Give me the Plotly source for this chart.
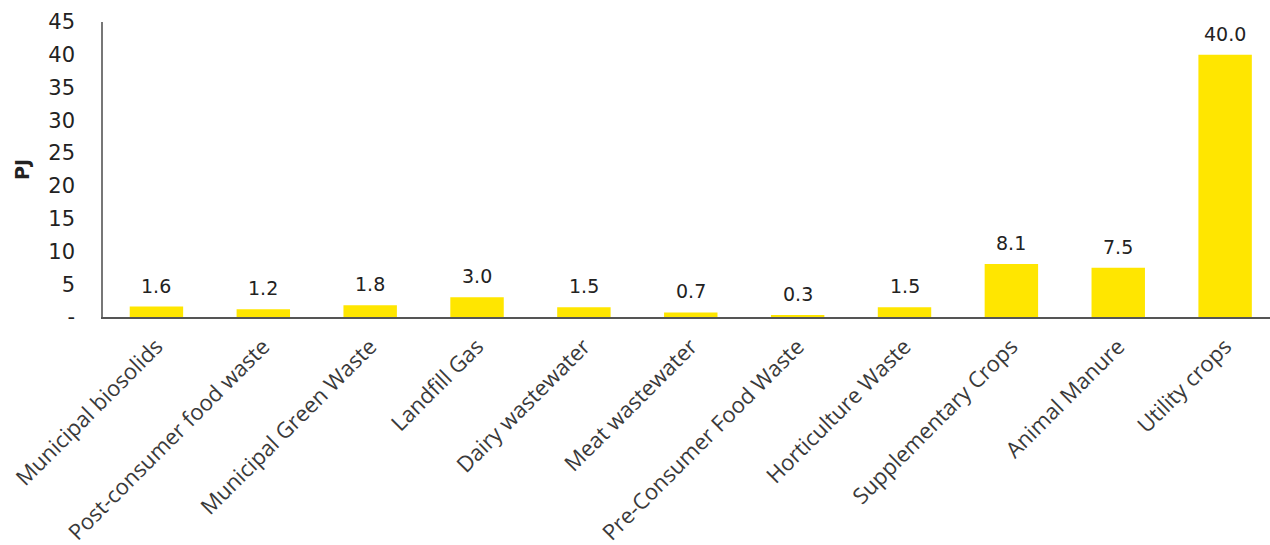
import plotly.graph_objects as go

categories = ["Municipal biosolids", "Post-consumer food waste", "Municipal Green Waste",
              "Landfill Gas", "Dairy wastewater", "Meat wastewater", "Pre-Consumer Food Waste",
              "Horticulture Waste", "Supplementary Crops", "Animal Manure", "Utility crops"]
values = [1.6, 1.2, 1.8, 3.0, 1.5, 0.7, 0.3, 1.5, 8.1, 7.5, 40.0]
ytick_vals = [0, 5, 10, 15, 20, 25, 30, 35, 40, 45]
ytick_text = ["-", "5", "10", "15", "20", "25", "30", "35", "40", "45"]

x_idx = list(range(len(categories)))

fig = go.Figure()
fig.add_trace(go.Bar(x=x_idx, y=values, marker_color="#FFE600", width=0.5,
                     marker_line_width=0, hoverinfo="skip"))

for i, v in zip(x_idx, values):
    fig.add_annotation(x=i, y=v, text=f"{v:.1f}", showarrow=False, yanchor="bottom",
                       yshift=8, font=dict(family="DejaVu Sans", size=19, color="#222222"))

fig.update_layout(
    width=1270, height=545,
    margin=dict(l=103, r=0, t=22, b=228),
    paper_bgcolor="white", plot_bgcolor="white",
    showlegend=False,
    xaxis=dict(
        tickmode="array", tickvals=x_idx, ticktext=categories, tickangle=-45,
        range=[-0.5, 10.42], showgrid=False, zeroline=False,
        showline=True, linecolor="#555555", linewidth=2, ticks="",
        ticklabelstandoff=6,
        tickfont=dict(family="Open Sans", size=22, color="#3a3a3a"),
    ),
    yaxis=dict(
        tickmode="array", tickvals=ytick_vals, ticktext=ytick_text,
        range=[0, 45], showgrid=False, zeroline=False,
        showline=True, linecolor="#777777", linewidth=1.5, ticks="",
        ticklabelstandoff=22,
        tickfont=dict(family="DejaVu Sans", size=21, color="#222222"),
        title=dict(text="<b>PJ</b>", font=dict(family="DejaVu Sans", size=19, color="#222222"),
                   standoff=14),
    ),
)

fig.write_html("out.html")
